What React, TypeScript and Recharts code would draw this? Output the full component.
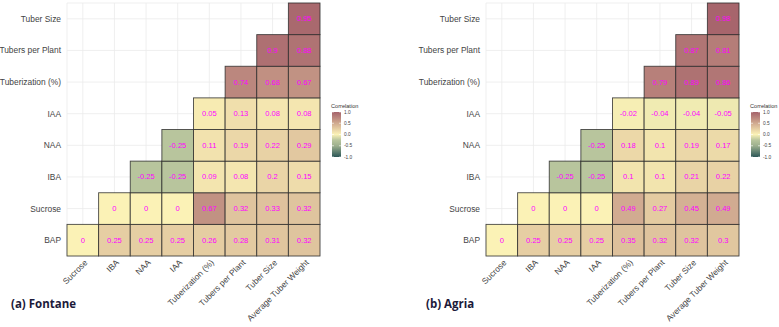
import React from 'react';
import { ScatterChart, Scatter, XAxis, YAxis, CartesianGrid } from 'recharts';

// variable order on each axis (rows bottom -> top, columns left -> right)
const rowVars = ['BAP', 'Sucrose', 'IBA', 'NAA', 'IAA', 'Tuberization (%)', 'Tubers per Plant', 'Tuber Size'];
const colVars = ['Sucrose', 'IBA', 'NAA', 'IAA', 'Tuberization (%)', 'Tubers per Plant', 'Tuber Size', 'Average Tuber Weight'];
const axisTicks = [0, 1, 2, 3, 4, 5, 6, 7];

// Fontane: one array per row, starting at the diagonal
const fontaneBAP = [0, 0.25, 0.25, 0.25, 0.26, 0.28, 0.31, 0.32];
const fontaneSucrose = [0, 0, 0, 0.67, 0.32, 0.33, 0.32];
const fontaneIBA = [-0.25, -0.25, 0.09, 0.08, 0.2, 0.15];
const fontaneNAA = [-0.25, 0.11, 0.19, 0.22, 0.29];
const fontaneIAA = [0.05, 0.13, 0.08, 0.08];
const fontaneTuberization = [0.74, 0.68, 0.67];
const fontaneTubersPerPlant = [0.9, 0.88];
const fontaneTuberSize = [0.95];

// Agria
const agriaBAP = [0, 0.25, 0.25, 0.25, 0.35, 0.32, 0.32, 0.3];
const agriaSucrose = [0, 0, 0, 0.49, 0.27, 0.45, 0.49];
const agriaIBA = [-0.25, -0.25, 0.1, 0.1, 0.21, 0.22];
const agriaNAA = [-0.25, 0.18, 0.1, 0.19, 0.17];
const agriaIAA = [-0.02, -0.04, -0.04, -0.05];
const agriaTuberization = [0.79, 0.89, 0.86];
const agriaTubersPerPlant = [0.87, 0.81];
const agriaTuberSize = [0.98];

const legendTicks = [1, 0.5, 0, -0.5, -1];

// fill scale: value -> colour
const colorStops: [number, number[]][] = [
  [-1, [44, 87, 87]],
  [-0.5, [157, 176, 142]],
  [-0.25, [184, 197, 157]],
  [0, [251, 242, 182]],
  [1, [165, 98, 106]],
];

function fillFor(v: number) {
  for (let i = 0; i < colorStops.length - 1; i++) {
    const [a, ca] = colorStops[i];
    const [b, cb] = colorStops[i + 1];
    if (v >= a && v <= b) {
      const t = (v - a) / (b - a);
      const c = ca.map((x, k) => Math.round(x + (cb[k] - x) * t));
      return `rgb(${c[0]},${c[1]},${c[2]})`;
    }
  }
  return v < 0 ? 'rgb(44,87,87)' : 'rgb(165,98,106)';
}

function buildCells(rows: number[][]) {
  const out: { x: number; y: number; v: number }[] = [];
  rows.forEach((vals, r) => {
    vals.forEach((v, k) => out.push({ x: r + k, y: r, v }));
  });
  return out;
}

const fontaneCells = buildCells([
  fontaneBAP, fontaneSucrose, fontaneIBA, fontaneNAA,
  fontaneIAA, fontaneTuberization, fontaneTubersPerPlant, fontaneTuberSize,
]);
const agriaCells = buildCells([
  agriaBAP, agriaSucrose, agriaIBA, agriaNAA,
  agriaIAA, agriaTuberization, agriaTubersPerPlant, agriaTuberSize,
]);

const PLOT = 253;
const CELL = PLOT / 8;
const FONT = '"Liberation Sans", Arial, sans-serif';

const Tile = (props: any) => {
  const { cx, cy, payload } = props;
  return (
    <g>
      <rect
        x={cx - CELL / 2}
        y={cy - CELL / 2}
        width={CELL}
        height={CELL}
        fill={fillFor(payload.v)}
        stroke="#2a2a2a"
        strokeOpacity={0.85}
        strokeWidth={0.9}
      />
      <text
        x={cx}
        y={cy}
        textAnchor="middle"
        dominantBaseline="central"
        fontSize={7.6}
        fontFamily={FONT}
        fill="#ff00ff"
      >
        {String(payload.v)}
      </text>
    </g>
  );
};

const XTick = (props: any) => {
  const { x, y, payload } = props;
  const tx = x + 3;
  const ty = y + 5;
  return (
    <text
      x={tx}
      y={ty}
      transform={`rotate(-45, ${tx}, ${ty})`}
      textAnchor="end"
      dominantBaseline="central"
      fontSize={8.4}
      fontFamily={FONT}
      fill="#444"
    >
      {colVars[payload.value]}
    </text>
  );
};

const YTick = (props: any) => {
  const { x, y, payload } = props;
  return (
    <text x={x} y={y} textAnchor="end" dominantBaseline="central" fontSize={8.4} fontFamily={FONT} fill="#444">
      {rowVars[payload.value]}
    </text>
  );
};

function ColorBar({ left, id }: { left: number; id: string }) {
  const top = 112;
  const h = 45;
  return (
    <svg style={{ position: 'absolute', left, top: 100, overflow: 'visible' }} width={40} height={70}>
      <defs>
        <linearGradient id={id} x1="0" y1="0" x2="0" y2="1">
          {colorStops.slice().reverse().map(([v]) => (
            <stop key={v} offset={`${((1 - v) / 2) * 100}%`} stopColor={fillFor(v)} />
          ))}
        </linearGradient>
      </defs>
      <text x={0} y={8} fontSize={5.6} fontFamily={FONT} fill="#333">Correlation</text>
      <rect x={1} y={top - 100} width={9} height={h} fill={`url(#${id})`} />
      {legendTicks.map((t) => {
        const ty = top - 100 + ((1 - t) / 2) * h;
        return (
          <g key={t}>
            <line x1={1} x2={3} y1={ty} y2={ty} stroke="#fff" strokeWidth={0.6} />
            <line x1={8} x2={10} y1={ty} y2={ty} stroke="#fff" strokeWidth={0.6} />
            <text x={13} y={ty} dominantBaseline="central" fontSize={4.8} fontFamily={FONT} fill="#444">
              {t.toFixed(1)}
            </text>
          </g>
        );
      })}
    </svg>
  );
}

function Panel({ data, yWidth, width }: { data: { x: number; y: number; v: number }[]; yWidth: number; width: number }) {
  return (
    <ScatterChart
      width={width}
      height={327}
      margin={{ top: 3, right: width - yWidth - PLOT, bottom: 0, left: 0 }}
    >
      <CartesianGrid stroke="#ebebeb" strokeWidth={0.8} />
      <XAxis
        type="number"
        dataKey="x"
        domain={[-0.5, 7.5]}
        ticks={axisTicks}
        interval={0}
        axisLine={false}
        tickLine={false}
        tickSize={0}
        tickMargin={0}
        height={71}
        tick={<XTick />}
      />
      <YAxis
        type="number"
        dataKey="y"
        domain={[-0.5, 7.5]}
        ticks={axisTicks}
        interval={0}
        axisLine={false}
        tickLine={false}
        tickSize={0}
        tickMargin={6}
        width={yWidth}
        tick={<YTick />}
      />
      <Scatter data={data} shape={<Tile />} isAnimationActive={false} />
    </ScatterChart>
  );
}

const titleStyle: React.CSSProperties = {
  position: 'absolute',
  top: 296,
  fontFamily: '"Open Sans", "Noto Sans", sans-serif',
  fontWeight: 700,
  fontSize: 11.5,
  color: '#1c1a3a',
  whiteSpace: 'nowrap',
};

export default function App() {
  return (
    <div style={{ position: 'absolute', left: 0, top: 0, width: 779, height: 327, background: '#fff', overflow: 'hidden' }}>
      <div style={{ position: 'absolute', left: 0, top: 0 }}>
        <Panel data={fontaneCells} yWidth={67} width={390} />
      </div>
      <div style={{ position: 'absolute', left: 390, top: 0 }}>
        <Panel data={agriaCells} yWidth={96} width={389} />
      </div>
      <ColorBar left={331} id="gradA" />
      <ColorBar left={750} id="gradB" />
      <div style={{ ...titleStyle, left: 11 }}>(a) Fontane</div>
      <div style={{ ...titleStyle, left: 426 }}>(b) Agria</div>
    </div>
  );
}
